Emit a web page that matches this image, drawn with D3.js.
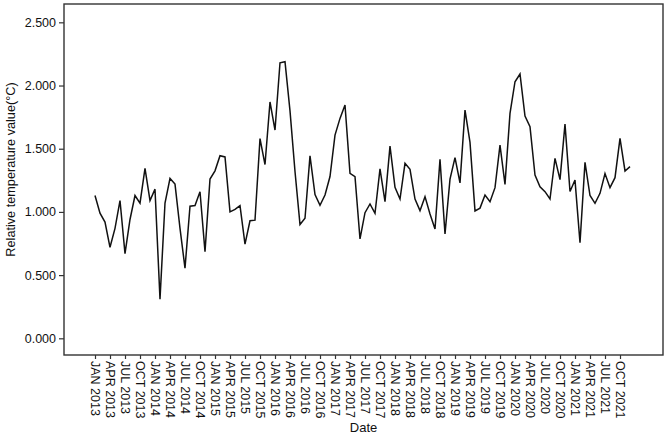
<!DOCTYPE html>
<html>
<head>
<meta charset="utf-8">
<script src="https://cdn.jsdelivr.net/npm/d3@7/dist/d3.min.js"></script>
<style>
  html, body { margin: 0; padding: 0; background: #fff; }
  svg { display: block; }
  text { font-family: "Liberation Sans", Arial, sans-serif; fill: #111; }
</style>
</head>
<body>
<svg id="chart" width="671" height="436"></svg>
<script>
// Monthly relative temperature values, JAN 2013 .. DEC 2021
const startYear = 2013;
const values = [
  1.13, 0.99, 0.92, 0.72, 0.87, 1.09, 0.67, 0.94, 1.13, 1.07, 1.345, 1.09,
  1.18, 0.31, 1.07, 1.265, 1.22, 0.87, 0.555, 1.045, 1.05, 1.16, 0.685, 1.26,
  1.325, 1.445, 1.435, 1.00, 1.02, 1.05, 0.745, 0.93, 0.935, 1.58, 1.375, 1.87,
  1.648, 2.18, 2.188, 1.80, 1.32, 0.90, 0.95, 1.443, 1.138, 1.052, 1.134, 1.28,
  1.608, 1.74, 1.846, 1.305, 1.279, 0.786, 0.994, 1.063, 0.989, 1.340, 1.081, 1.521,
  1.194, 1.102, 1.384, 1.337, 1.102, 1.010, 1.121, 0.983, 0.865, 1.416, 0.825, 1.260,
  1.429, 1.23, 1.806, 1.55, 1.008, 1.03, 1.134, 1.081, 1.192, 1.529, 1.218, 1.780,
  2.030, 2.091, 1.759, 1.674, 1.292, 1.199, 1.160, 1.102, 1.424, 1.255, 1.695, 1.162,
  1.252, 0.756, 1.392, 1.13, 1.068, 1.147, 1.303, 1.192, 1.271, 1.582, 1.324, 1.358
];
const monthNames = ["JAN","FEB","MAR","APR","MAY","JUN","JUL","AUG","SEP","OCT","NOV","DEC"];
const tickMonths = d3.range(0, 106, 3); // JAN 2013 .. OCT 2021, every quarter
const yTicks = [0, 0.5, 1.0, 1.5, 2.0, 2.5];
const yTitle = "Relative temperature value(°C)";
const xTitle = "Date";

const svg = d3.select("#chart");
const plot = { left: 64, right: 663, top: 4, bottom: 355 };

const x = d3.scaleLinear().domain([-6.2, 113.6]).range([plot.left, plot.right]);
const y = d3.scaleLinear().domain([-0.132, 2.645]).range([plot.bottom, plot.top]);

const label = i => monthNames[i % 12] + " " + (startYear + Math.floor(i / 12));

// Frame
svg.append("rect")
  .attr("x", plot.left).attr("y", plot.top)
  .attr("width", plot.right - plot.left).attr("height", plot.bottom - plot.top)
  .attr("fill", "none").attr("stroke", "#333").attr("stroke-width", 1.4);

// Y axis
const yAxis = svg.append("g")
  .attr("transform", `translate(${plot.left},0)`)
  .call(d3.axisLeft(y).tickValues(yTicks).tickFormat(d3.format(".3f")).tickSize(5).tickPadding(3));
yAxis.select(".domain").remove();
yAxis.selectAll(".tick line").attr("stroke", "#333").attr("stroke-width", 1.2);
yAxis.selectAll(".tick text")
  .style("font-family", '"Liberation Sans", Arial, sans-serif')
  .style("font-size", "12.5px").attr("fill", "#111");

// X axis
const xAxis = svg.append("g")
  .attr("transform", `translate(0,${plot.bottom})`)
  .call(d3.axisBottom(x).tickValues(tickMonths).tickFormat(label).tickSize(4));
xAxis.select(".domain").remove();
xAxis.selectAll(".tick line").attr("stroke", "#333").attr("stroke-width", 1.2);
xAxis.selectAll(".tick text")
  .style("font-family", '"Liberation Sans", Arial, sans-serif')
  .style("font-size", "12.5px").attr("fill", "#111")
  .attr("text-anchor", "start")
  .attr("transform", "rotate(90)")
  .attr("x", 6).attr("y", 0).attr("dy", "0.35em");

// Line
const line = d3.line().x((d, i) => x(i)).y(d => y(d));
svg.append("path")
  .datum(values)
  .attr("d", line)
  .attr("fill", "none")
  .attr("stroke", "#111")
  .attr("stroke-width", 1.5)
  .attr("stroke-linejoin", "miter");

// Titles
svg.append("text")
  .attr("transform", `translate(15,${(plot.top + plot.bottom) / 2 - 10}) rotate(-90)`)
  .attr("text-anchor", "middle")
  .style("font-size", "12.7px")
  .text(yTitle);

svg.append("text")
  .attr("x", (plot.left + plot.right) / 2)
  .attr("y", 432)
  .attr("text-anchor", "middle")
  .style("font-size", "13px")
  .text(xTitle);
</script>
</body>
</html>
